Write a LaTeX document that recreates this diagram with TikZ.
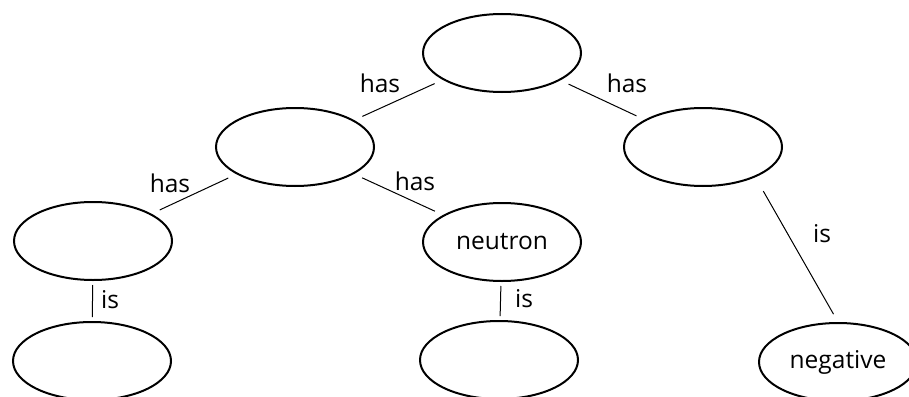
\documentclass[tikz,border=0pt]{standalone}
\usepackage{fontspec}
\setmainfont{Open Sans}
\usetikzlibrary{shapes.geometric}
\tikzset{
  concept/.style={ellipse, draw=black, line width=2pt, minimum width=158pt,
    minimum height=78pt, inner sep=0pt, outer sep=1pt, font=\fontsize{24.5}{28}\selectfont},
  link/.style={draw=black, line width=1pt},
  diag/.style={link, shorten <=9pt, shorten >=9pt},
  vert/.style={link, shorten <=4pt, shorten >=4pt},
  rel/.style={inner sep=0pt, font=\fontsize{24.5}{28}\selectfont}
}
\begin{document}
\begin{tikzpicture}[x=1pt,y=-1pt]
  \useasboundingbox (0,0) rectangle (909,396);

  % concept ellipses
  \node[concept] (atom)   at (502,53)  {};
  \node[concept] (nuc)    at (295,147) {};
  \node[concept] (elec)   at (703,147) {};
  \node[concept] (prot)   at (93,241)  {};
  \node[concept] (neut)   at (502,242) {neutron};
  \node[concept] (pchg)   at (92,361)  {};
  \node[concept] (nchg)   at (499,360) {};
  \node[concept] (neg)    at (838,362) {negative};

  % connectors
  \draw[diag] (nuc) -- (atom);
  \draw[diag] (atom) -- (elec);
  \draw[diag] (nuc) -- (prot);
  \draw[diag] (nuc) -- (neut);
  \draw[vert] (prot) -- (pchg);
  \draw[vert] (neut) -- (nchg);
  \draw[link, shorten <=16pt, shorten >=9pt] (elec.-30) -- (neg.north);

  % relation labels
  \node[rel] (h1) at (380,83)  {has};
  \node[rel] (h2) at (627,83)  {has};
  \node[rel] (h3) at (170,183) {has};
  \node[rel] (h4) at (415,181) {has};
  \node[rel] (i1) at (110,300) {is};
  \node[rel] (i2) at (524,299) {is};
  \node[rel] (i3) at (822,234) {is};
\end{tikzpicture}
\end{document}
